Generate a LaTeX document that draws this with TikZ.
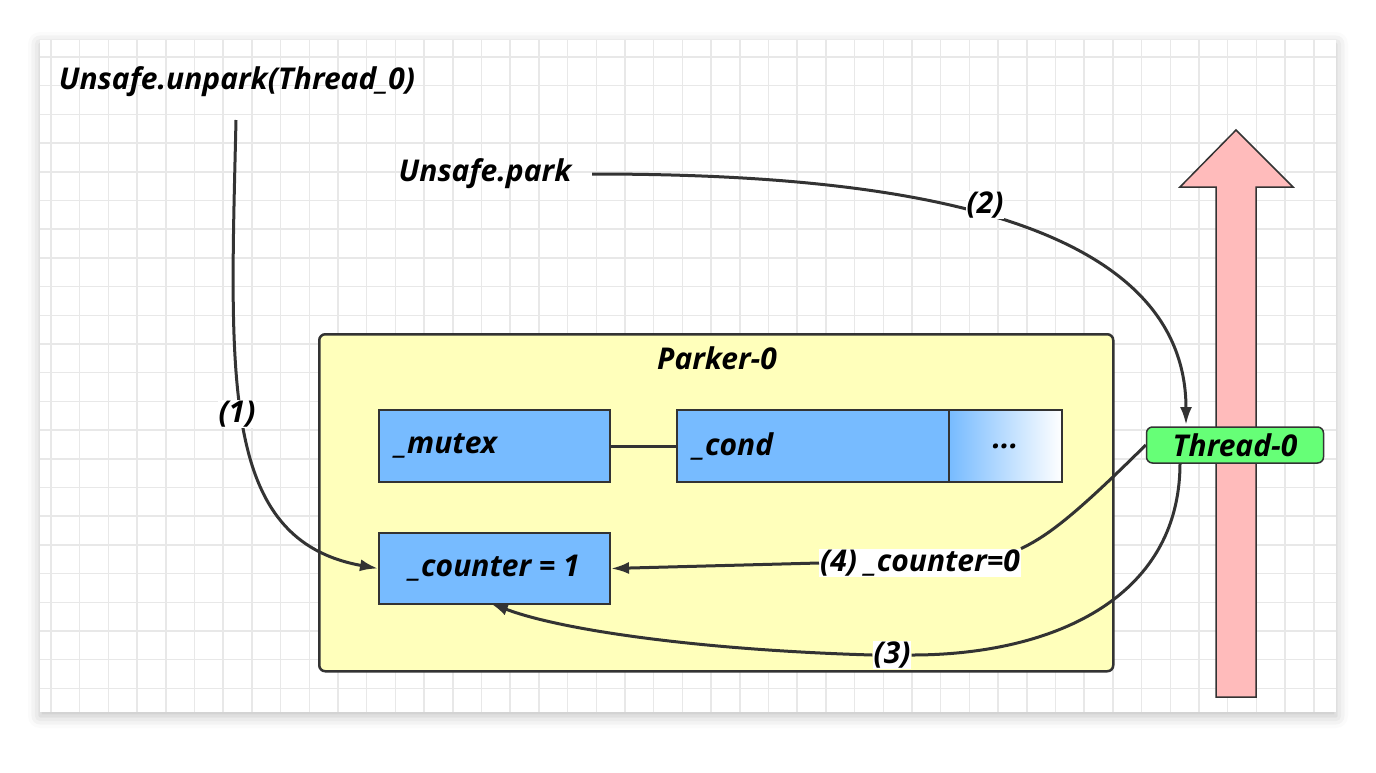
\documentclass[tikz,border=0pt]{standalone}
\usepackage{fontspec}
\setmainfont{Open Sans}
\usetikzlibrary{arrows.meta,shadows.blur}
\definecolor{gridline}{HTML}{E8E8E8}
\definecolor{parker}{HTML}{FFFFBB}
\definecolor{field}{HTML}{77BBFF}
\definecolor{thread}{HTML}{66FF77}
\definecolor{lane}{HTML}{FFBBBB}
\definecolor{ink}{HTML}{333333}

\tikzset{
    txt/.style={font=\fontsize{30}{36}\selectfont\bfseries\itshape, text=black, inner sep=1pt},
    lbl/.style={txt, fill=white},
    box/.style={draw=ink, line width=2pt, fill=field, minimum height=72pt, anchor=north west},
    flow/.style={ink, line width=3pt, -{Latex[length=18pt,width=12pt]}},
}

\begin{document}
\begin{tikzpicture}[x=1pt, y=-1pt]
    \useasboundingbox (0, 0) rectangle (1376, 772);
    % paper with grid
    \fill[white, blur shadow={shadow xshift=0pt, shadow yshift=-4pt, shadow blur radius=12pt, shadow opacity=25}] (40, 40) rectangle (1336, 712);
    \begin{scope}
        \clip (40, 40) rectangle (1336, 712);
        \foreach \i in {0, 1, ..., 45}
            \draw[gridline, line width=1.5pt] (51 + 28.7*\i, 40) -- (51 + 28.7*\i, 712);
        \foreach \j in {0, 1, ..., 23}
            \draw[gridline, line width=1.5pt] (40, 57 + 28.7*\j) -- (1336, 57 + 28.7*\j);
    \end{scope}

    % thread lane
    \draw[ink, fill=lane, line width=1.5pt] (1216, 697) -- (1216, 187) -- (1180, 187) -- (1236, 130)
        -- (1293, 187) -- (1256, 187) -- (1256, 697) -- cycle;

    % parker
    \node[draw=ink, line width=2.5pt, fill=parker, rounded corners=6pt, minimum width=794pt,
        minimum height=337pt, anchor=north west] (parker) at (318, 333) {};
    \node[txt] (parkername) at (717, 358) {Parker-0};
    \node[box, minimum width=231pt] (mutex) at (378, 409) {};
    \node[txt, anchor=west] at ([xshift=16pt]mutex.west) {\_mutex};
    \node[box, minimum width=272pt] (cond) at (676, 409) {};
    \node[txt, anchor=west] at ([xshift=16pt]cond.west) {\_cond};
    \node[box, minimum width=113pt, left color=field, right color=white] (more) at (948, 409) {};
    \node[txt] at (more.center) {...};
    \node[box, minimum width=231pt, minimum height=71pt] (counter) at (378, 532) {};
    \node[txt] at (counter.center) {\_counter = 1};
    \draw[ink, line width=3pt] (mutex) -- (cond);

    % thread
    \node[txt, draw=ink, line width=1.5pt, fill=thread, rounded corners=6pt, minimum width=177pt,
        minimum height=36pt] (thread0) at (1235, 445) {Thread-0};

    % calls
    \node[txt] (unpark) at (237, 82) {Unsafe.unpark(Thread\_0)};
    \node[txt] (park) at (485, 174) {Unsafe.park};
    \coordinate (unparkend) at (236, 120);
    \coordinate (parkend) at (592, 174);

    \draw[flow] (unparkend) .. controls (230, 380) and (220, 540) .. (counter.west);
    \node[lbl] (one) at (237, 414) {(1)};

    \draw[flow] (parkend) .. controls (840, 174) and (1186, 200) .. (1186, 425);
    \node[lbl] (two) at (985, 205) {(2)};

    \node[lbl] (four) at (920, 563) {(4) \_counter=0};
    \draw[ink, line width=3pt] (thread0.west) .. controls (1080, 510) and (1050, 535) .. (four.north east);
    \draw[flow] (four.west) -- (counter.east);

    \node[lbl] (three) at (892, 655) {(3)};
    \draw[ink, line width=3pt] (1180, 463) .. controls (1180, 600) and (1050, 655) .. (three.east);
    \draw[flow] (three.west) .. controls (700, 650) and (560, 630) .. (490, 603);
\end{tikzpicture}
\end{document}
